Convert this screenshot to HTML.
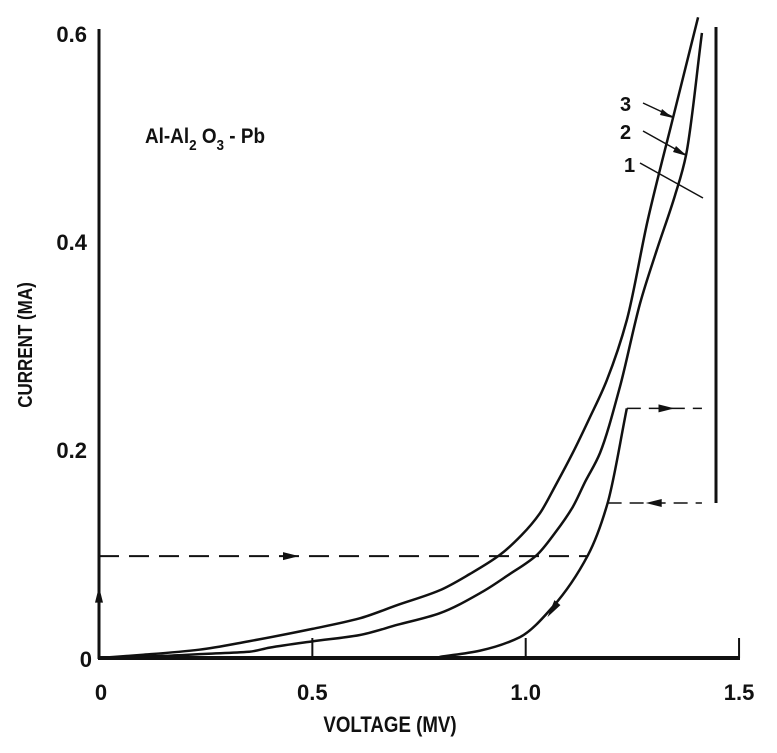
<!DOCTYPE html>
<html><head><meta charset="utf-8"><style>
html,body{margin:0;padding:0;background:#fff;}
svg{display:block;}
text{font-family:"Liberation Sans",sans-serif;font-weight:bold;fill:#111;}
</style></head><body>
<svg width="777" height="753" viewBox="0 0 777 753" xmlns="http://www.w3.org/2000/svg">
<g id="marks"></g>
<g>
<line x1="99" y1="29" x2="99" y2="659" stroke="#111" stroke-width="3"/>
<line x1="98" y1="658" x2="740" y2="658" stroke="#111" stroke-width="4"/>
</g>
<g id="ticks"></g>
<text x="390" y="732" font-size="22" text-anchor="middle" transform="translate(390 0) scale(0.85 1) translate(-390 0)">VOLTAGE (MV)</text>
<text font-size="20" text-anchor="middle" transform="translate(32 345) rotate(-90) scale(0.85 1)">CURRENT (MA)</text>
<text x="145" y="143" font-size="21" transform="translate(145 0) scale(0.9 1) translate(-145 0)">Al-Al<tspan font-size="15" dy="7">2</tspan><tspan dy="-7"> O</tspan><tspan font-size="15" dy="7">3</tspan><tspan dy="-7"> - Pb</tspan></text>
<text x="620" y="111" font-size="20">3</text>
<text x="620" y="139" font-size="20">2</text>
<text x="624" y="172" font-size="20">1</text>
<line x1="643" y1="103" x2="673" y2="117" stroke="#111" stroke-width="1.5"/>
<polygon points="673,118 662,109 660,115" fill="#111"/>
<line x1="643" y1="131" x2="686" y2="155" stroke="#111" stroke-width="1.5"/>
<polygon points="687,156 676,146 673,152" fill="#111"/>
<line x1="640" y1="163" x2="703" y2="198" stroke="#111" stroke-width="1.5"/>
<line x1="716" y1="27" x2="716" y2="503" stroke="#111" stroke-width="3"/>
</svg>
<script>
const xTicks=[0,0.5,1.0,1.5];
const xTickLabels=["0","0.5","1.0","1.5"];
const yTicks=[0,0.2,0.4,0.6];
const yTickLabels=["0","0.2","0.4","0.6"];
const curve3V=[0,0.1,0.235,0.35,0.5,0.61,0.7,0.798,0.87,0.939,0.99,1.033,1.07,1.110,1.15,1.190,1.237,1.286,1.345,1.404];
const curve3I=[0,0.003,0.008,0.016,0.028,0.038,0.051,0.065,0.081,0.099,0.118,0.139,0.166,0.197,0.231,0.267,0.325,0.421,0.519,0.616];
const curve2V=[0,0.15,0.25,0.352,0.4,0.5,0.61,0.7,0.798,0.9,0.96,1.026,1.07,1.110,1.14,1.174,1.221,1.268,1.307,1.350,1.376,1.413];
const curve2I=[0,0.002,0.004,0.006,0.010,0.016,0.022,0.032,0.043,0.064,0.080,0.099,0.121,0.145,0.170,0.197,0.261,0.341,0.392,0.445,0.484,0.601];
const returnV=[0.798,0.892,0.986,1.063,1.146,1.192,1.237];
const returnI=[0.001,0.007,0.020,0.049,0.099,0.149,0.240];
const switchI=[0.098,0.240,0.149];
const switchV=[1.146,1.237,1.192,1.413];
const NS="http://www.w3.org/2000/svg";
const X=v=>99+v*426.7, Y=i=>658-i*1040;
const marks=document.getElementById('marks'), ticks=document.getElementById('ticks');
function mk(tag,attrs,parent){const e=document.createElementNS(NS,tag);for(const k in attrs)e.setAttribute(k,attrs[k]);parent.appendChild(e);return e;}
function smooth(vs,is){
 const x=vs.map(X), y=is.map(Y), n=x.length;
 const d=[],m=[];
 for(let k=0;k<n-1;k++)d.push((y[k+1]-y[k])/(x[k+1]-x[k]));
 m[0]=d[0];m[n-1]=d[n-2];
 for(let k=1;k<n-1;k++){m[k]=(d[k-1]*d[k]<=0)?0:2/(1/d[k-1]+1/d[k]);}
 let p="M"+x[0]+","+y[0];
 for(let k=0;k<n-1;k++){const h=(x[k+1]-x[k])/3;
  p+=" C"+(x[k]+h)+","+(y[k]+m[k]*h)+" "+(x[k+1]-h)+","+(y[k+1]-m[k+1]*h)+" "+x[k+1]+","+y[k+1];}
 return p;}
let e;
e=mk('path',{d:smooth(curve3V,curve3I),fill:'none',stroke:'#111','stroke-width':2.5},marks);


e=mk('path',{d:smooth(curve2V,curve2I),fill:'none',stroke:'#111','stroke-width':2.5},marks);


e=mk('path',{d:smooth(returnV,returnI),fill:'none',stroke:'#111','stroke-width':2.5},marks);


e=mk('line',{x1:X(0),y1:Y(switchI[0]),x2:X(switchV[0]),y2:Y(switchI[0]),stroke:'#111','stroke-width':2,'stroke-dasharray':'20,10'},marks);


e=mk('line',{x1:X(switchV[1]),y1:Y(switchI[1]),x2:X(switchV[3]),y2:Y(switchI[1]),stroke:'#111','stroke-width':1.5,'stroke-dasharray':'14,8'},marks);


e=mk('line',{x1:X(switchV[2]),y1:Y(switchI[2]),x2:X(switchV[3]),y2:Y(switchI[2]),stroke:'#111','stroke-width':1.5,'stroke-dasharray':'14,8'},marks);


function arrow(x,y,dir,name){let pts;
if(dir==='r')pts=[[x+8,y],[x-8,y-4],[x-8,y+4]];else if(dir==='l')pts=[[x-8,y],[x+8,y-4],[x+8,y+4]];
else if(dir==='u')pts=[[x,y-9],[x-4,y+7],[x+4,y+7]];else pts=[[x-6,y+8],[x+7,y-4],[x+1,y-9]];
const a=mk('polygon',{points:pts.map(p=>p.join(',')).join(' '),fill:'#111'},marks);

}
arrow(X(0.45),Y(switchI[0]),'r','arrow-low');
arrow(X(1.33),Y(switchI[1]),'r','arrow-high');
arrow(X(1.30),Y(switchI[2]),'l','arrow-mid');
arrow(X(0),Y(0.06),'u','arrow-up-axis');
arrow(X(1.065),Y(0.047),'d','arrow-return');
xTicks.forEach((v,k)=>{
 if(v>0){const t=mk('line',{x1:X(v),y1:638,x2:X(v),y2:658,stroke:'#111','stroke-width':2},ticks);
 
 }
 const l=mk('text',{x:X(v)+(v===0?2:0),y:700,'font-size':22,'text-anchor':'middle'},ticks);
 l.textContent=xTickLabels[k];
 
 
});
yTicks.forEach((v,k)=>{
 const l=mk('text',{x:v===0?92:87,y:Y(v)+(v===0?9:8),'font-size':22,'text-anchor':'end'},ticks);
 l.textContent=yTickLabels[k];
 
 
});
</script>
</body></html>
